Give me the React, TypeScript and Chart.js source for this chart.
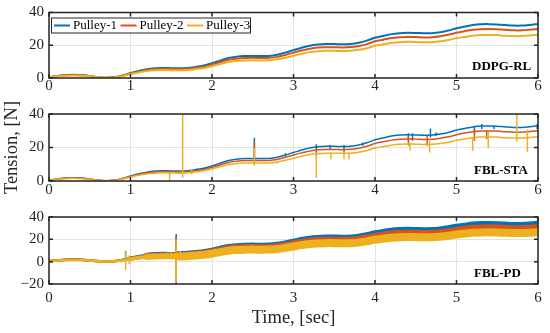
import React, { useEffect, useRef } from "react";
import { Chart, registerables } from "chart.js";

Chart.register(...registerables);

// ---------------- data ----------------
const TIME = [
  0.0, 0.1, 0.2, 0.3, 0.4, 0.5, 0.6, 0.7, 0.8, 0.9,
  1.0, 1.1, 1.2, 1.3, 1.4, 1.5, 1.6, 1.7, 1.8, 1.9,
  2.0, 2.1, 2.2, 2.3, 2.4, 2.5, 2.6, 2.7, 2.8, 2.9,
  3.0, 3.1, 3.2, 3.3, 3.4, 3.5, 3.6, 3.7, 3.8, 3.9,
  4.0, 4.1, 4.2, 4.3, 4.4, 4.5, 4.6, 4.7, 4.8, 4.9,
  5.0, 5.1, 5.2, 5.3, 5.4, 5.5, 5.6, 5.7, 5.8, 5.9,
  6.0,
];

const PULLEY_1 = [
  0.5, 1.2, 1.8, 2.0, 1.8, 1.2, 0.5, 0.1, 0.4, 1.5,
  3.0, 4.3, 5.3, 5.9, 6.1, 6.0, 5.9, 6.1, 6.8, 7.6,
  9.0, 10.6, 12.2, 13.0, 13.4, 13.5, 13.4, 13.5, 14.2, 15.5,
  17.0, 18.5, 19.7, 20.4, 20.7, 20.7, 20.6, 20.8, 21.5, 22.8,
  24.6, 25.7, 26.8, 27.4, 27.6, 27.5, 27.3, 27.4, 28.0, 29.0,
  30.4, 31.4, 32.3, 32.8, 32.9, 32.7, 32.3, 32.0, 32.0, 32.4,
  33.0,
];

const PULLEY_2 = [
  0.5, 1.1, 1.7, 1.9, 1.7, 1.1, 0.5, 0.1, 0.4, 1.4,
  2.7, 3.9, 4.8, 5.4, 5.6, 5.5, 5.4, 5.6, 6.2, 6.9,
  8.2, 9.6, 11.1, 11.8, 12.2, 12.3, 12.2, 12.3, 12.9, 14.1,
  15.5, 16.8, 17.9, 18.6, 18.8, 18.8, 18.7, 18.9, 19.6, 20.7,
  22.4, 23.4, 24.4, 24.9, 25.1, 25.0, 24.8, 24.9, 25.5, 26.4,
  27.6, 28.6, 29.4, 29.8, 29.9, 29.8, 29.4, 29.1, 29.1, 29.5,
  30.0,
];

const PULLEY_3 = [
  0.4, 1.0, 1.4, 1.6, 1.4, 1.0, 0.4, 0.1, 0.3, 1.2,
  2.4, 3.4, 4.2, 4.7, 4.9, 4.8, 4.7, 4.9, 5.4, 6.1,
  7.2, 8.5, 9.8, 10.4, 10.7, 10.8, 10.7, 10.8, 11.4, 12.4,
  13.6, 14.8, 15.8, 16.3, 16.6, 16.6, 16.5, 16.6, 17.2, 18.2,
  19.7, 20.6, 21.4, 21.9, 22.1, 22.0, 21.8, 21.9, 22.4, 23.2,
  24.3, 25.1, 25.8, 26.2, 26.3, 26.2, 25.8, 25.6, 25.6, 25.9,
  26.4,
];

const SERIES_LABELS = ["Pulley-1", "Pulley-2", "Pulley-3"];
const PANEL_LABELS = ["DDPG-RL", "FBL-STA", "FBL-PD"];
const X_TICKS = [0, 1, 2, 3, 4, 5, 6];
const Y_TICKS_POS = [0, 20, 40];
const Y_TICKS_PD = [-20, 0, 20, 40];
const X_TITLE = "Time, [sec]";
const Y_TITLE = "Tension, [N]";

// spikes: [time, low, high]
type Spike = [number, number, number];

const STA_SPIKES_1: Spike[] = [
  [1.82, 6, 7.5], [2.52, 12, 25.8], [2.9, 14.5, 16.5], [3.28, 19, 22],
  [3.45, 19, 21.5], [3.62, 19, 21.5], [3.85, 21, 23], [4.41, 24, 28.5],
  [4.46, 24, 28.5], [4.68, 26, 31.4], [4.75, 27, 29], [5.22, 28, 32.8],
  [5.31, 31, 34], [5.46, 31, 33], [5.99, 31, 34],
];
const STA_SPIKES_2: Spike[] = [
  [2.52, 11, 23], [3.28, 15, 19], [3.62, 17, 19.5], [4.41, 21, 27],
  [4.64, 21, 27], [5.22, 24, 31], [5.37, 25, 30],
];
const STA_SPIKES_3: Spike[] = [
  [1.48, 0, 5.5], [1.64, 2, 40], [1.75, 4, 6.5], [2.2, 9.5, 10.8],
  [2.52, 9, 20], [2.8, 10.5, 12], [3.28, 2, 17], [3.46, 13, 17],
  [3.62, 13, 17], [3.68, 13, 17], [4.43, 18, 23], [4.67, 17, 24],
  [5.2, 18, 26], [5.39, 19.5, 29.4], [5.74, 23.5, 40], [5.87, 17.5, 30.8],
];

const PD_SPIKES_1: Spike[] = [
  [0.94, 3, 9.5], [1.3, 6, 8.5], [1.45, 6, 8.5], [1.56, 8, 24.8],
];
const PD_SPIKES_2: Spike[] = [[1.56, -20, 22]];
const PD_SPIKES_3: Spike[] = [
  [0.44, 0.8, 2.8], [0.94, -7.5, 9], [0.985, -2, 5.5], [1.2, 2, 7.5],
  [1.28, 3, 7.5], [1.36, 2.5, 7], [1.45, 3, 8], [1.5, 2, 8.5],
  [1.56, -18, 20], [1.61, 3, 9.5],
];

// ---------------- style ----------------
const FONT = '"Liberation Serif", "Times New Roman", serif';
const AXIS_COLOR = "#262626";
const GRID_COLOR = "#e2e2e2";
const COLORS = ["#0072BD", "#D95319", "#EDB120"];
const TICK_LEN = 4;

interface PanelCfg {
  top: number;
  height: number;
  areaTop: number;
  xAxisHeight: number;
  yTicks: number[];
  label: string;
  labelLeft: number;
  labelUp: number;
  lineWidth: number;
  widthFn?: (t: number) => number;
  spikes: Spike[][];
  legend: boolean;
  xTickPad: number;
  yTitle?: string;
  xTitle?: string;
}

const pdWidth = (t: number) => (t < 0.95 ? 2.5 : t < 1.15 ? 4 : t < 1.6 ? 6 : 8);

const PANELS: PanelCfg[] = [
  {
    top: 0, height: 100, areaTop: 12, xAxisHeight: 22, yTicks: Y_TICKS_POS,
    label: PANEL_LABELS[0], labelLeft: 472, labelUp: 11.3, lineWidth: 2,
    spikes: [[], [], []], legend: true, xTickPad: 0.5,
  },
  {
    top: 100, height: 100, areaTop: 14, xAxisHeight: 19, yTicks: Y_TICKS_POS,
    label: PANEL_LABELS[1], labelLeft: 474, labelUp: 10.7, lineWidth: 1.5,
    spikes: [STA_SPIKES_1, STA_SPIKES_2, STA_SPIKES_3], legend: false, xTickPad: 1.5,
    yTitle: Y_TITLE,
  },
  {
    top: 200, height: 133, areaTop: 17, xAxisHeight: 49, yTicks: Y_TICKS_PD,
    label: PANEL_LABELS[2], labelLeft: 474, labelUp: 10.3, lineWidth: 8, widthFn: pdWidth,
    spikes: [PD_SPIKES_1, PD_SPIKES_2, PD_SPIKES_3], legend: false, xTickPad: 6.5,
    xTitle: X_TITLE,
  },
];

const SERIES = [PULLEY_1, PULLEY_2, PULLEY_3];

function buildDatasets(p: PanelCfg) {
  const ds: any[] = [];
  SERIES.forEach((vals, i) => {
    const line: any = {
      label: SERIES_LABELS[i],
      data: TIME.map((t, k) => ({ x: t, y: vals[k] })),
      borderColor: COLORS[i],
      backgroundColor: COLORS[i],
      borderWidth: p.lineWidth,
      pointRadius: 0,
      tension: 0.35,
      fill: false,
      borderCapStyle: "round",
      borderJoinStyle: "round",
      clip: 0,
      order: 10 + (3 - i) * 2,
    };
    if (p.widthFn) {
      const fn = p.widthFn;
      line.segment = { borderWidth: (ctx: any) => fn(ctx.p0.parsed.x) };
    }
    ds.push(line);
    const sp = p.spikes[i];
    if (sp.length) {
      ds.push({
        label: SERIES_LABELS[i] + " spikes",
        data: sp.flatMap(([t, lo, hi]) => [
          { x: t, y: lo },
          { x: t, y: hi },
          { x: t, y: null },
        ]),
        borderColor: COLORS[i],
        backgroundColor: COLORS[i],
        borderWidth: 1.5,
        pointRadius: 0,
        tension: 0,
        spanGaps: false,
        fill: false,
        clip: 0,
        order: 10 + (3 - i) * 2 - 1,
      });
    }
  });
  return ds;
}

const framePlugin = {
  id: "matlabFrame",
  afterDatasetsDraw(chart: any) {
    const { ctx, chartArea } = chart;
    const { left, right, top, bottom } = chartArea;
    const xs = chart.scales.x;
    const ys = chart.scales.y;
    ctx.save();
    ctx.strokeStyle = AXIS_COLOR;
    ctx.lineWidth = 1.5;
    ctx.beginPath();
    xs.ticks.forEach((t: any) => {
      const px = xs.getPixelForValue(t.value);
      ctx.moveTo(px, bottom);
      ctx.lineTo(px, bottom - TICK_LEN);
      ctx.moveTo(px, top);
      ctx.lineTo(px, top + TICK_LEN);
    });
    ys.ticks.forEach((t: any) => {
      const py = ys.getPixelForValue(t.value);
      ctx.moveTo(left, py);
      ctx.lineTo(left + TICK_LEN, py);
      ctx.moveTo(right, py);
      ctx.lineTo(right - TICK_LEN, py);
    });
    ctx.stroke();
    ctx.strokeRect(left, top, right - left, bottom - top);
    ctx.restore();
  },
};

function makeLabelPlugin(p: PanelCfg) {
  return {
    id: "panelLabel",
    afterDraw(chart: any) {
      const { ctx, chartArea } = chart;
      ctx.save();
      ctx.font = `bold 13px ${FONT}`;
      ctx.fillStyle = "#000";
      ctx.textAlign = "left";
      ctx.textBaseline = "middle";
      ctx.fillText(p.label, p.labelLeft, chartArea.bottom - p.labelUp);
      if (p.legend) {
        const x0 = chartArea.left + 2;
        const y0 = chartArea.top + 5;
        const w = 199;
        const h = 15;
        ctx.fillStyle = "#fff";
        ctx.fillRect(x0, y0, w, h);
        ctx.strokeStyle = AXIS_COLOR;
        ctx.lineWidth = 1;
        ctx.strokeRect(x0 + 0.5, y0 + 0.5, w, h);
        ctx.font = `13px ${FONT}`;
        ctx.textBaseline = "middle";
        const cy = y0 + h / 2 + 0.5;
        let x = x0 + 3;
        const lines = chart.data.datasets.filter((d: any) => SERIES_LABELS.includes(d.label));
        lines.forEach((d: any) => {
          ctx.strokeStyle = d.borderColor;
          ctx.lineWidth = 2;
          ctx.beginPath();
          ctx.moveTo(x, cy);
          ctx.lineTo(x + 16, cy);
          ctx.stroke();
          x += 19;
          ctx.fillStyle = "#000";
          ctx.fillText(d.label, x, cy);
          x += ctx.measureText(d.label).width + 3.5;
        });
      }
      ctx.restore();
    },
  };
}

function makeConfig(p: PanelCfg): any {
  const tickFont = { family: FONT, size: 15, lineHeight: 1 };
  return {
    type: "line",
    data: { datasets: buildDatasets(p) },
    options: {
      animation: false,
      responsive: false,
      maintainAspectRatio: false,
      devicePixelRatio: 1,
      events: [],
      layout: { padding: { top: p.areaTop, right: 12, left: 0, bottom: 0 } },
      plugins: { legend: { display: false }, tooltip: { enabled: false }, title: { display: false } },
      scales: {
        x: {
          type: "linear",
          min: 0,
          max: 6,
          afterBuildTicks: (s: any) => {
            s.ticks = X_TICKS.map((v) => ({ value: v }));
          },
          afterFit: (s: any) => {
            s.height = p.xAxisHeight;
          },
          ticks: {
            font: tickFont,
            color: AXIS_COLOR,
            padding: p.xTickPad,
            autoSkip: false,
            maxRotation: 0,
          },
          grid: { color: GRID_COLOR, lineWidth: 1, drawTicks: false },
          border: { display: false },
          title: p.xTitle
            ? {
                display: true,
                text: p.xTitle,
                color: AXIS_COLOR,
                font: { family: FONT, size: 18.5 },
                padding: { top: 0, bottom: 4 },
              }
            : { display: false },
        },
        y: {
          type: "linear",
          min: p.yTicks[0],
          max: p.yTicks[p.yTicks.length - 1],
          afterBuildTicks: (s: any) => {
            s.ticks = p.yTicks.map((v) => ({ value: v }));
          },
          afterFit: (s: any) => {
            s.width = 49;
          },
          ticks: {
            font: tickFont,
            color: AXIS_COLOR,
            padding: 5,
            callback: (v: any) => String(v).replace("-", "\u2212"),
          },
          grid: { color: GRID_COLOR, lineWidth: 1, drawTicks: false },
          border: { display: false },
          title: p.yTitle
            ? {
                display: true,
                text: p.yTitle,
                color: AXIS_COLOR,
                font: { family: FONT, size: 18.5 },
                padding: { top: 1.5, bottom: 0 },
              }
            : { display: false },
        },
      },
    },
    plugins: [framePlugin, makeLabelPlugin(p)],
  };
}

function Panel({ cfg }: { cfg: PanelCfg }) {
  const ref = useRef<HTMLCanvasElement | null>(null);
  useEffect(() => {
    if (!ref.current) return;
    const chart = new Chart(ref.current, makeConfig(cfg));
    return () => chart.destroy();
  }, [cfg]);
  return (
    <canvas
      ref={ref}
      width={550}
      height={cfg.height}
      style={{ position: "absolute", left: 0, top: cfg.top, width: 550, height: cfg.height }}
    />
  );
}

export default function App() {
  useEffect(() => {
    document.body.style.margin = "0";
    document.body.style.background = "#fff";
  }, []);
  return (
    <div style={{ position: "relative", width: 550, height: 333, background: "#fff", overflow: "hidden" }}>
      {PANELS.map((p, i) => (
        <Panel key={i} cfg={p} />
      ))}
    </div>
  );
}
